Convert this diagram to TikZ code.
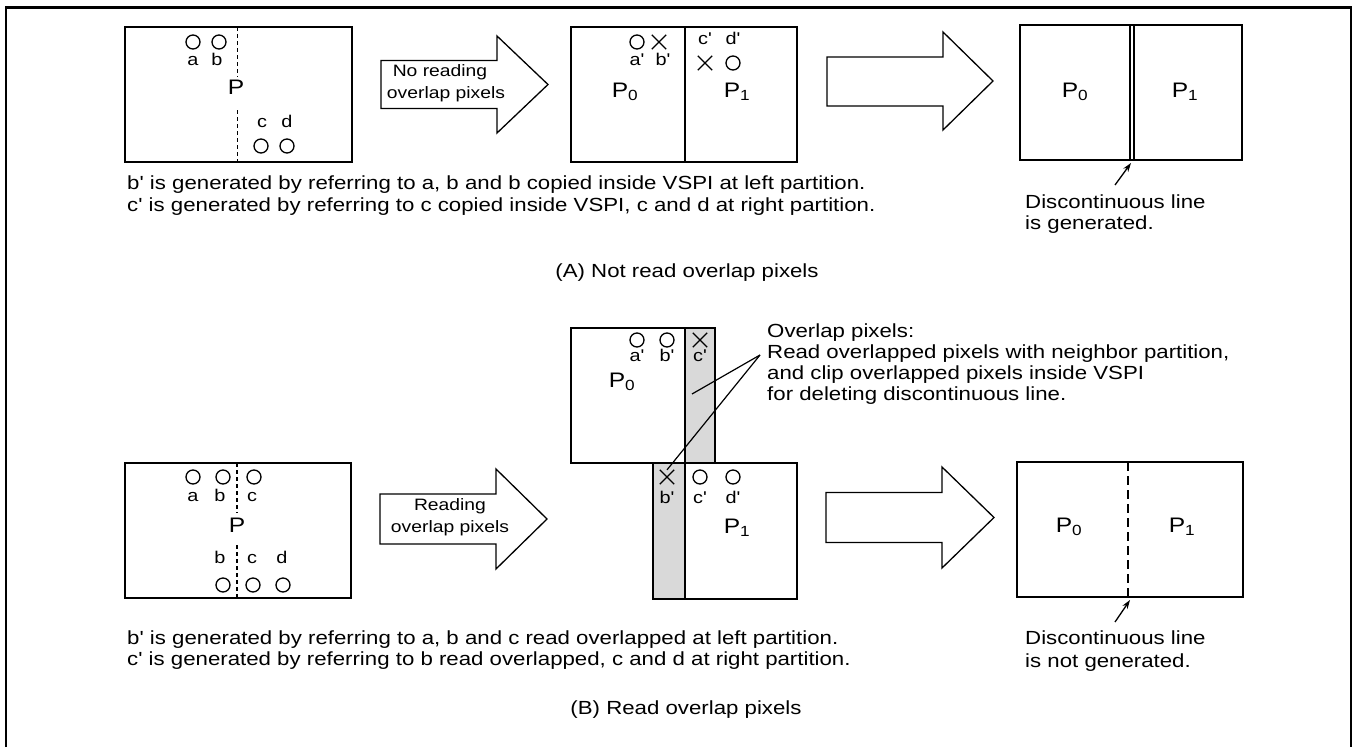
\documentclass[tikz,border=0pt]{standalone}
\usepackage{fontspec}
\setmainfont{Liberation Sans}[Ligatures=TeXOff, FakeStretch=1.17]
\usetikzlibrary{arrows.meta,shapes.misc}
\definecolor{greyfill}{RGB}{217,217,217}
\tikzset{
  box/.style={draw=black, line width=1.3pt},
  lbl/.style={font=\fontsize{17}{18}\selectfont, inner sep=0pt, anchor=mid},
  txt/.style={font=\fontsize{19}{22}\selectfont, inner sep=0pt, anchor=mid west},
  ctxt/.style={font=\fontsize{19}{22}\selectfont, inner sep=0pt, anchor=mid},
  atxt/.style={font=\fontsize{16.5}{22}\selectfont, inner sep=0pt, anchor=mid},
  big/.style={font=\fontsize{21}{24}\selectfont, inner sep=0pt, anchor=mid},
  pix/.style={draw, line width=1.3pt, circle, minimum size=14pt, inner sep=0pt},
  xpix/.style={draw, line width=1.3pt, cross out, minimum size=13pt, inner sep=0pt},
  dashv/.style={line width=1.2pt, dash pattern=on 4pt off 3pt},
  dashw/.style={line width=1.5pt, dash pattern=on 9pt off 5pt},
  thin/.style={line width=1.2pt},
  ptr/.style={line width=1.3pt, -{Stealth[length=9pt,width=6pt]}}
}
\begin{document}
\begin{tikzpicture}[x=1pt,y=-1pt]
\useasboundingbox (0,0) rectangle (1354,747);
% outer frame
\draw[line width=2.6pt] (6,747) -- (6,7.5) -- (1351,7.5) -- (1351,747);

% ================= (A) =================
% left box
\draw[box] (125,27) rectangle (352,162);
\draw[dashv] (237.5,27) -- (237.5,77);
\draw[dashv] (237.5,110) -- (237.5,162);
\node[pix] (aA) at (193,42) {};
\node[pix] (bA) at (219,42) {};
\node[lbl] (laA) at (193,63) {a};
\node[lbl] (lbA) at (217,63) {b};
\node[big] (PA) at (236,92) {P};
\node[lbl] (lcA) at (262,125) {c};
\node[lbl] (ldA) at (287,125) {d};
\node[pix] (cA) at (261,146) {};
\node[pix] (dA) at (287,146) {};

% block arrow 1
\draw[box] (381,60.5) -- (497,60.5) -- (497,36) -- (548,84.5) -- (497,133) -- (497,108.5) -- (381,108.5) -- cycle;
\node[atxt] (ar1a) at (440,74) {No reading};
\node[atxt] (ar1b) at (446,96) {overlap pixels};

% middle box
\draw[box] (571,27) rectangle (797,162);
\draw[box] (685,27) -- (685,162);
\node[pix] (a1A) at (637,42) {};
\node[xpix] (b1A) at (659,42) {};
\node[lbl] (la1A) at (637,63) {a'};
\node[lbl] (lb1A) at (663,63) {b'};
\node[big] (P0A) at (625,95) {P\textsubscript{0}};
\node[lbl] (lc1A) at (705,42) {c'};
\node[lbl] (ld1A) at (733,42) {d'};
\node[xpix] (c1A) at (705,63) {};
\node[pix] (d1A) at (733,63) {};
\node[big] (P1A) at (737,95) {P\textsubscript{1}};

% block arrow 2
\draw[box] (827,57) -- (943,57) -- (943,32) -- (993,81) -- (943,130) -- (943,106) -- (827,106) -- cycle;

% right box
\draw[box] (1020,25) rectangle (1242,160);
\draw[thin] (1130,25) -- (1130,160);
\draw[thin] (1134,25) -- (1134,160);
\node[big] (P0rA) at (1075,95) {P\textsubscript{0}};
\node[big] (P1rA) at (1185,95) {P\textsubscript{1}};
\coordinate (gapA) at (1131,163);
\coordinate (tailA) at (1115,185);
\draw[ptr] (tailA) -- (gapA);
\node[txt] (discA1) at (1025,206) {Discontinuous line};
\node[txt] (discA2) at (1025,227) {is generated.};

% captions
\node[txt] (capA1) at (127,187) {b' is generated by referring to a, b and b copied inside VSPI at left partition.};
\node[txt] (capA2) at (127,209) {c' is generated by referring to c copied inside VSPI, c and d at right partition.};
\node[ctxt] (titleA) at (687,275) {(A) Not read overlap pixels};

% ================= (B) =================
% left box
\draw[box] (125,463) rectangle (351,598);
\draw[dashv] (237,463) -- (237,513);
\draw[dashv] (237,545) -- (237,598);
\node[pix] (aB) at (193,477) {};
\node[pix] (bB) at (223,477) {};
\node[pix] (cB) at (254,477) {};
\node[lbl] (laB) at (193,499) {a};
\node[lbl] (lbB) at (220,499) {b};
\node[lbl] (lcB) at (252,499) {c};
\node[big] (PB) at (237,530) {P};
\node[lbl] (lb2B) at (220,561) {b};
\node[lbl] (lc2B) at (252,561) {c};
\node[lbl] (ld2B) at (282,561) {d};
\node[pix] (b2B) at (223,585) {};
\node[pix] (c2B) at (253,585) {};
\node[pix] (d2B) at (283,585) {};

% block arrow 1
\draw[box] (380,494) -- (496,494) -- (496,469) -- (547,519) -- (496,569) -- (496,544) -- (380,544) -- cycle;
\node[atxt] (ar3a) at (450,508) {Reading};
\node[atxt] (ar3b) at (450,530) {overlap pixels};

% middle: upper partition P0
\fill[greyfill] (685,328) rectangle (715,463);
\draw[box] (571,328) rectangle (715,463);
\draw[box] (685,328) -- (685,463);
% lower partition P1
\fill[greyfill] (653,463) rectangle (685,599);
\draw[box] (653,463) rectangle (797,599);
\draw[box] (685,463) -- (685,599);

\node[pix] (a1B) at (637,340) {};
\node[pix] (b1B) at (667,340) {};
\node[xpix] (c1B) at (700,340) {};
\node[lbl] (la1B) at (637,359) {a'};
\node[lbl] (lb1B) at (667,359) {b'};
\node[lbl] (lc1B) at (700,359) {c'};
\node[big] (P0B) at (622,385) {P\textsubscript{0}};

\node[xpix] (b2xB) at (667,477) {};
\node[pix] (c2xB) at (700,477) {};
\node[pix] (d2xB) at (733,477) {};
\node[lbl] (lb2xB) at (667,501) {b'};
\node[lbl] (lc2xB) at (700,501) {c'};
\node[lbl] (ld2xB) at (733,501) {d'};
\node[big] (P1B) at (737,531) {P\textsubscript{1}};

% callout
\coordinate (callout) at (760,355);
\coordinate (stripU) at (692,394);
\draw[thin] (callout) -- (stripU);
\draw[thin] (callout) -- (b2xB.north);
\node[txt] (ov1) at (767,335) {Overlap pixels:};
\node[txt] (ov2) at (767,356) {Read overlapped pixels with neighbor partition,};
\node[txt] (ov3) at (767,377) {and clip overlapped pixels inside VSPI};
\node[txt] (ov4) at (767,398) {for deleting discontinuous line.};

% block arrow 2
\draw[box] (826,492.5) -- (942,492.5) -- (942,467) -- (994,517.5) -- (942,568) -- (942,542.5) -- (826,542.5) -- cycle;

% right box
\draw[box] (1017,462) rectangle (1243,597);
\draw[dashw] (1128,462) -- (1128,597);
\node[big] (P0rB) at (1069,530) {P\textsubscript{0}};
\node[big] (P1rB) at (1182,530) {P\textsubscript{1}};
\coordinate (gapB) at (1130,600);
\coordinate (tailB) at (1115,622);
\draw[ptr] (tailB) -- (gapB);
\node[txt] (discB1) at (1025,642) {Discontinuous line};
\node[txt] (discB2) at (1025,665) {is not generated.};

% captions
\node[txt] (capB1) at (127,642) {b' is generated by referring to a, b and c read overlapped at left partition.};
\node[txt] (capB2) at (127,663) {c' is generated by referring to b read overlapped, c and d at right partition.};
\node[ctxt] (titleB) at (686,712) {(B) Read overlap pixels};
\end{tikzpicture}
\end{document}
